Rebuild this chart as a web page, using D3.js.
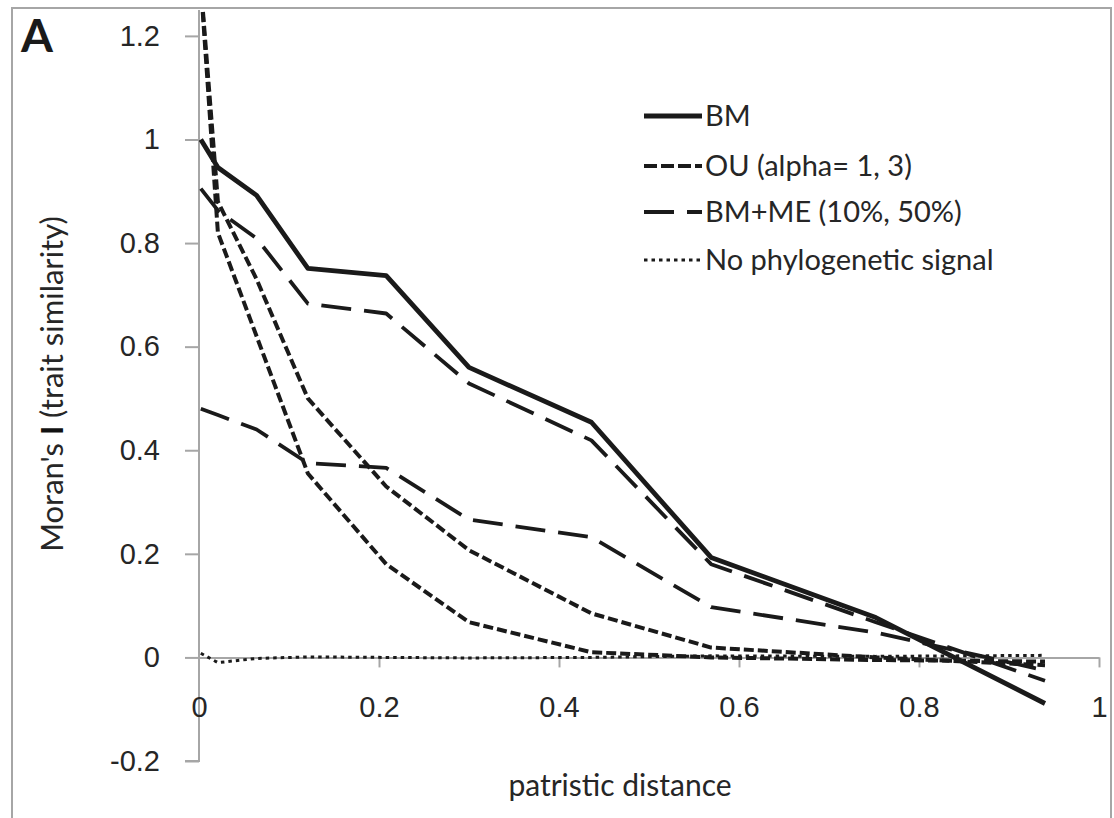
<!DOCTYPE html>
<html>
<head>
<meta charset="UTF-8">
<title>Moran's I vs patristic distance</title>
<script src="https://d3js.org/d3.v7.min.js"></script>
<style>
  body { margin: 0; padding: 0; background: #fff; }
  svg { display: block; font-family: Lato, "Open Sans", sans-serif; }
  .axis text { font-size: 29px; fill: #262626; }
  .axis path, .axis line { stroke: #a6a6a6; stroke-width: 2; }
</style>
</head>
<body>
<svg id="chart" width="1114" height="818"></svg>
<script>
// distance classes (x) and Moran's I values
var dist = [0.002, 0.021, 0.064, 0.121, 0.208, 0.30, 0.436, 0.569, 0.752, 0.94];
var bm = [1.0, 0.946, 0.892, 0.751, 0.737, 0.56, 0.454, 0.193, 0.077, -0.089];
var ouAlpha1 = [1.30, 0.88, 0.73, 0.50, 0.33, 0.207, 0.085, 0.019, 0.0, -0.015];
var ouAlpha3 = [1.30, 0.82, 0.62, 0.355, 0.18, 0.068, 0.01, 0.0, -0.005, -0.008];
var bmMe10 = [0.905, 0.863, 0.809, 0.683, 0.664, 0.529, 0.419, 0.18, 0.068, -0.045];
var bmMe50 = [0.48, 0.468, 0.44, 0.375, 0.366, 0.266, 0.232, 0.097, 0.048, -0.025];
var noSignal = [0.008, -0.01, -0.002, 0.001, 0.0, -0.001, 0.0, 0.003, 0.002, 0.004];

var xTicks = [0, 0.2, 0.4, 0.6, 0.8, 1];
var yTicks = [-0.2, 0, 0.2, 0.4, 0.6, 0.8, 1, 1.2];

var legendLabels = ["BM", "OU (alpha= 1, 3)", "BM+ME (10%, 50%)", "No phylogenetic signal"];

// line styles
var styles = {
  bm:    { width: 4.8, dash: null },
  ou:    { width: 4,   dash: "10,4" },
  me:    { width: 3.8, dash: "30,13" },
  noise: { width: 3,   dash: "3.5,4" }
};

var series = [
  { vals: noSignal, st: styles.noise },
  { vals: bmMe50, st: styles.me },
  { vals: bmMe10, st: styles.me },
  { vals: ouAlpha3, st: styles.ou },
  { vals: ouAlpha1, st: styles.ou },
  { vals: bm, st: styles.bm }
];

// plain hyphen for negative numbers, like the original
var fmt = function (d) { return d3.format("~g")(d).replace("\u2212", "-"); };

var svg = d3.select("#chart");

var x = d3.scaleLinear().domain([0, 1]).range([199, 1099]);
var y = d3.scaleLinear().domain([-0.2, 1.25]).range([761, 10]);

// outer frame
svg.append("rect")
  .attr("x", 12).attr("y", 8)
  .attr("width", 1099).attr("height", 830)
  .attr("fill", "none")
  .attr("stroke", "#a6a6a6")
  .attr("stroke-width", 2);

svg.append("text")
  .attr("x", 21).attr("y", 52)
  .attr("font-size", 46)
  .attr("font-weight", "bold")
  .attr("fill", "#1a1a1a")
  .text("A");

// y axis
var yAxis = svg.append("g")
  .attr("class", "axis")
  .attr("transform", "translate(" + x(0) + ",0)")
  .call(d3.axisLeft(y).tickValues(yTicks).tickSize(14).tickPadding(25).tickSizeOuter(0)
    .tickFormat(fmt));
yAxis.select(".domain").attr("d", "M0," + y(1.25) + "V" + y(-0.2) + "H-14");

// x axis at y = 0
var xAxis = svg.append("g")
  .attr("class", "axis")
  .attr("transform", "translate(0," + y(0) + ")")
  .call(d3.axisBottom(x).tickValues(xTicks).tickSize(10).tickSizeOuter(0)
    .tickFormat(fmt));
xAxis.selectAll(".tick line").filter(function (d) { return d === 0; }).remove();
xAxis.selectAll("text").attr("y", 49).attr("dy", "0.35em");

// clip lines to the plot area
svg.append("clipPath").attr("id", "plot-clip")
  .append("rect").attr("x", 150).attr("y", y(1.25))
  .attr("width", 1000).attr("height", 800);

var line = d3.line()
  .x(function (d) { return x(d[0]); })
  .y(function (d) { return y(d[1]); });

var lines = svg.append("g").attr("clip-path", "url(#plot-clip)");
series.forEach(function (s) {
  lines.append("path")
    .datum(dist.map(function (d, i) { return [d, s.vals[i]]; }))
    .attr("d", line)
    .attr("fill", "none")
    .attr("stroke", "#1a1a1a")
    .attr("stroke-width", s.st.width)
    .attr("stroke-dasharray", s.st.dash)
    .attr("stroke-linejoin", "round");
});

// legend
var legendStyles = [styles.bm, styles.ou, styles.me, styles.noise];
var legendY = [116, 166, 212, 260];
var legend = svg.append("g");
legendLabels.forEach(function (lab, i) {
  legend.append("line")
    .attr("x1", 644).attr("x2", 702)
    .attr("y1", legendY[i]).attr("y2", legendY[i])
    .attr("stroke", "#1a1a1a")
    .attr("stroke-width", legendStyles[i].width)
    .attr("stroke-dasharray", i === 1 ? "13,4" : legendStyles[i].dash);
  legend.append("text")
    .attr("x", 705).attr("y", legendY[i] + 10)
    .attr("font-size", 29)
    .attr("fill", "#262626")
    .text(lab);
});

// axis titles
svg.append("text")
  .attr("x", 620).attr("y", 796)
  .attr("text-anchor", "middle")
  .attr("font-size", 30)
  .attr("fill", "#262626")
  .text("patristic distance");

var yTitle = svg.append("text")
  .attr("transform", "translate(63,384) rotate(-90)")
  .attr("text-anchor", "middle")
  .attr("font-size", 31)
  .attr("fill", "#262626");
yTitle.append("tspan").text("Moran's ");
yTitle.append("tspan").attr("font-weight", "bold").attr("fill", "#111").text("I");
yTitle.append("tspan").text(" (trait similarity)");
</script>
</body>
</html>
